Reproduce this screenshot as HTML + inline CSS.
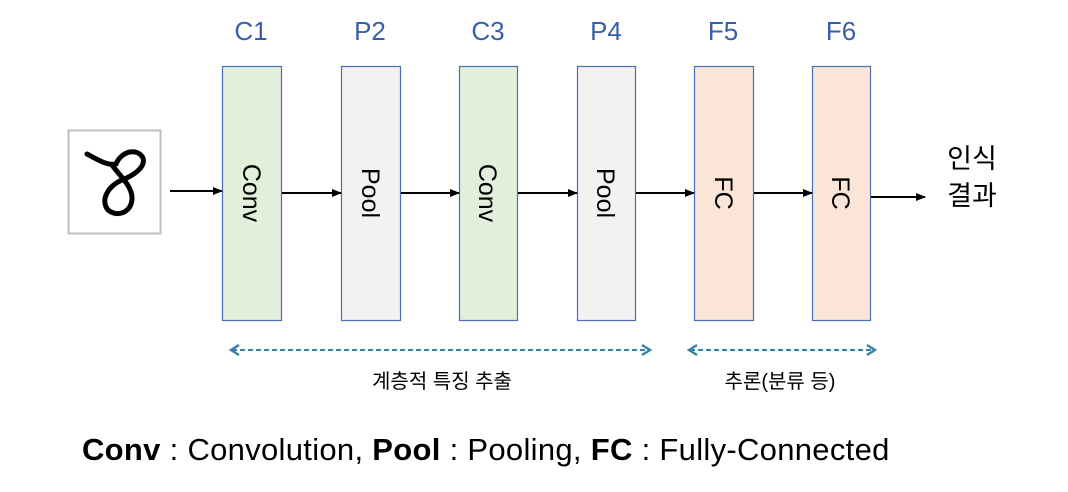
<!DOCTYPE html>
<html><head><meta charset="utf-8"><style>
html,body{margin:0;padding:0;background:#fff;}
svg{display:block;}
text{font-family:"Liberation Sans","Noto Sans CJK KR",sans-serif;}
</style></head><body>
<svg width="1068" height="492" viewBox="0 0 1068 492" xmlns="http://www.w3.org/2000/svg">
<defs>
<marker id="a" markerWidth="10" markerHeight="10" refX="9" refY="5" orient="auto" markerUnits="userSpaceOnUse"><path d="M0,1 L10,5 L0,9 z" fill="#000"/></marker>
</defs>
<rect x="68.5" y="130.5" width="92" height="103" fill="#fff" stroke="#bfbfbf" stroke-width="2"/>
<path d="M87,154 C98,160 108,166 116,164 C122,150 138,148 143,158 C146,168 132,176 122,180 C108,186 100,200 108,210 C118,218 132,212 132,198 C132,186 120,176 112,165" fill="none" stroke="#000" stroke-width="5" stroke-linecap="round"/>
<g fill="#3a5ea8" font-size="26" text-anchor="middle">
<text x="251" y="40">C1</text><text x="370" y="40">P2</text><text x="488" y="40">C3</text>
<text x="606" y="40">P4</text><text x="723" y="40">F5</text><text x="841" y="40">F6</text>
</g>
<g stroke="#4a6fb5" stroke-width="1.2">
<rect x="222.5" y="66.5" width="59" height="254" fill="#e2efda"/>
<rect x="341.5" y="66.5" width="59" height="254" fill="#f2f2f2"/>
<rect x="459.5" y="66.5" width="58" height="254" fill="#e2efda"/>
<rect x="577.5" y="66.5" width="58" height="254" fill="#f2f2f2"/>
<rect x="694.5" y="66.5" width="59" height="254" fill="#fbe5d6"/>
<rect x="812.5" y="66.5" width="58" height="254" fill="#fbe5d6"/>
</g>
<g font-size="25" fill="#000" text-anchor="middle">
<text transform="translate(252,193) rotate(90)" dy="9">Conv</text>
<text transform="translate(371,193) rotate(90)" dy="9">Pool</text>
<text transform="translate(488,193) rotate(90)" dy="9">Conv</text>
<text transform="translate(606,193) rotate(90)" dy="9">Pool</text>
<text transform="translate(724,193) rotate(90)" dy="9">FC</text>
<text transform="translate(841,193) rotate(90)" dy="9">FC</text>
</g>
<g stroke="#000" stroke-width="2" marker-end="url(#a)">
<line x1="170" y1="191" x2="222" y2="191"/>
<line x1="282" y1="193" x2="341" y2="193"/>
<line x1="401" y1="193" x2="459" y2="193"/>
<line x1="518" y1="193" x2="577" y2="193"/>
<line x1="636" y1="193" x2="694" y2="193"/>
<line x1="754" y1="193" x2="812" y2="193"/>
<line x1="871" y1="197" x2="925" y2="197"/>
</g>
<text x="972" y="168" font-size="27" text-anchor="middle">인식</text>
<text x="972" y="205" font-size="27" text-anchor="middle">결과</text>
<g stroke="#3a7fa8" stroke-width="2" fill="none">
<line x1="232" y1="350" x2="649" y2="350" stroke-dasharray="5,3"/>
<path d="M239,345 L231,350 L239,355" stroke-width="2.4"/><path d="M642,345 L650,350 L642,355" stroke-width="2.4"/>
<line x1="690" y1="350" x2="874" y2="350" stroke-dasharray="5,3"/>
<path d="M697,345 L689,350 L697,355" stroke-width="2.4"/><path d="M867,345 L875,350 L867,355" stroke-width="2.4"/>
</g>
<text x="442" y="388" font-size="20" text-anchor="middle">계층적 특징 추출</text>
<text x="780" y="388" font-size="20" text-anchor="middle">추론(분류 등)</text>
<text x="82" y="460" font-size="31" letter-spacing="0.3"><tspan font-weight="bold">Conv</tspan> : Convolution, <tspan font-weight="bold">Pool</tspan> : Pooling, <tspan font-weight="bold">FC</tspan> : Fully-Connected</text>
</svg>
</body></html>
